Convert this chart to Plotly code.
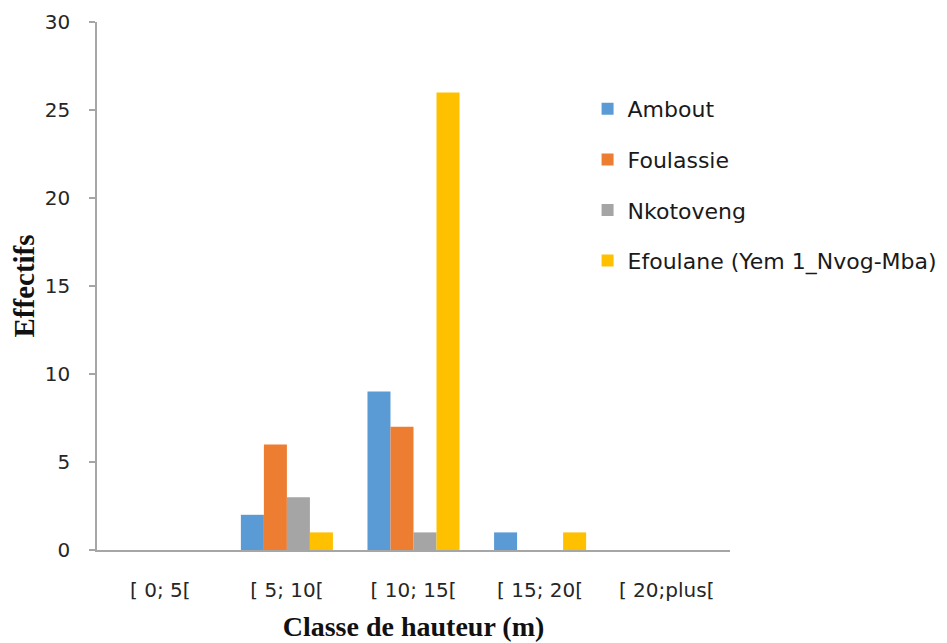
import plotly.graph_objects as go

categories = ["[ 0; 5[", "[ 5; 10[", "[ 10; 15[", "[ 15; 20[", "[ 20;plus["]
ambout = [0, 2, 9, 1, 0]
foulassie = [0, 6, 7, 0, 0]
nkotoveng = [0, 3, 1, 0, 0]
efoulane = [0, 1, 26, 1, 0]

series_names = ["Ambout", "Foulassie", "Nkotoveng", "Efoulane (Yem 1_Nvog-Mba)"]
series_values = [ambout, foulassie, nkotoveng, efoulane]
colors = ["#5B9BD5", "#ED7D31", "#A5A5A5", "#FFC000"]

fig = go.Figure()
for i, (name, vals, col) in enumerate(zip(series_names, series_values, colors)):
    fig.add_trace(go.Bar(
        x=categories, y=vals, name=name, legendgroup=f"g{i}",
        marker=dict(color=col, line=dict(width=0)),
    ))

tick_font = dict(family="DejaVu Sans, sans-serif", size=20, color="#262626")
ytitle_font = dict(family="Liberation Serif, Times New Roman, serif", size=29, color="#111111")
xtitle_font = dict(family="Liberation Serif, Times New Roman, serif", size=28, color="#111111")

fig.update_layout(
    width=947, height=643,
    margin=dict(l=89, r=225, t=14, b=101),
    paper_bgcolor="white", plot_bgcolor="white",
    barmode="group", bargap=0.273, bargroupgap=0,
    legend=dict(x=0.775, y=0.875, xanchor="left", yanchor="top",
                font=dict(family="DejaVu Sans, sans-serif", size=22, color="#1a1a1a"),
                tracegroupgap=19, itemwidth=30, bgcolor="rgba(0,0,0,0)"),
    xaxis=dict(showline=True, linecolor="#A6A6A6", linewidth=1.5, ticks="",
               tickfont=tick_font, ticklabelstandoff=21, automargin=False,
               title=dict(text="<b>Classe de hauteur (m)</b>", font=xtitle_font, standoff=16),
               showgrid=False, zeroline=False, fixedrange=True),
    yaxis=dict(range=[0, 30], dtick=5, showline=True, linecolor="#A6A6A6", linewidth=1.5,
               ticks="outside", ticklen=6, tickcolor="#A6A6A6", tickwidth=1.5,
               tickfont=tick_font, ticklabelstandoff=15, automargin=False,
               title=dict(text="<b>Effectifs</b>", font=ytitle_font, standoff=8),
               showgrid=False, zeroline=False),
)

fig.write_html("out.html")
